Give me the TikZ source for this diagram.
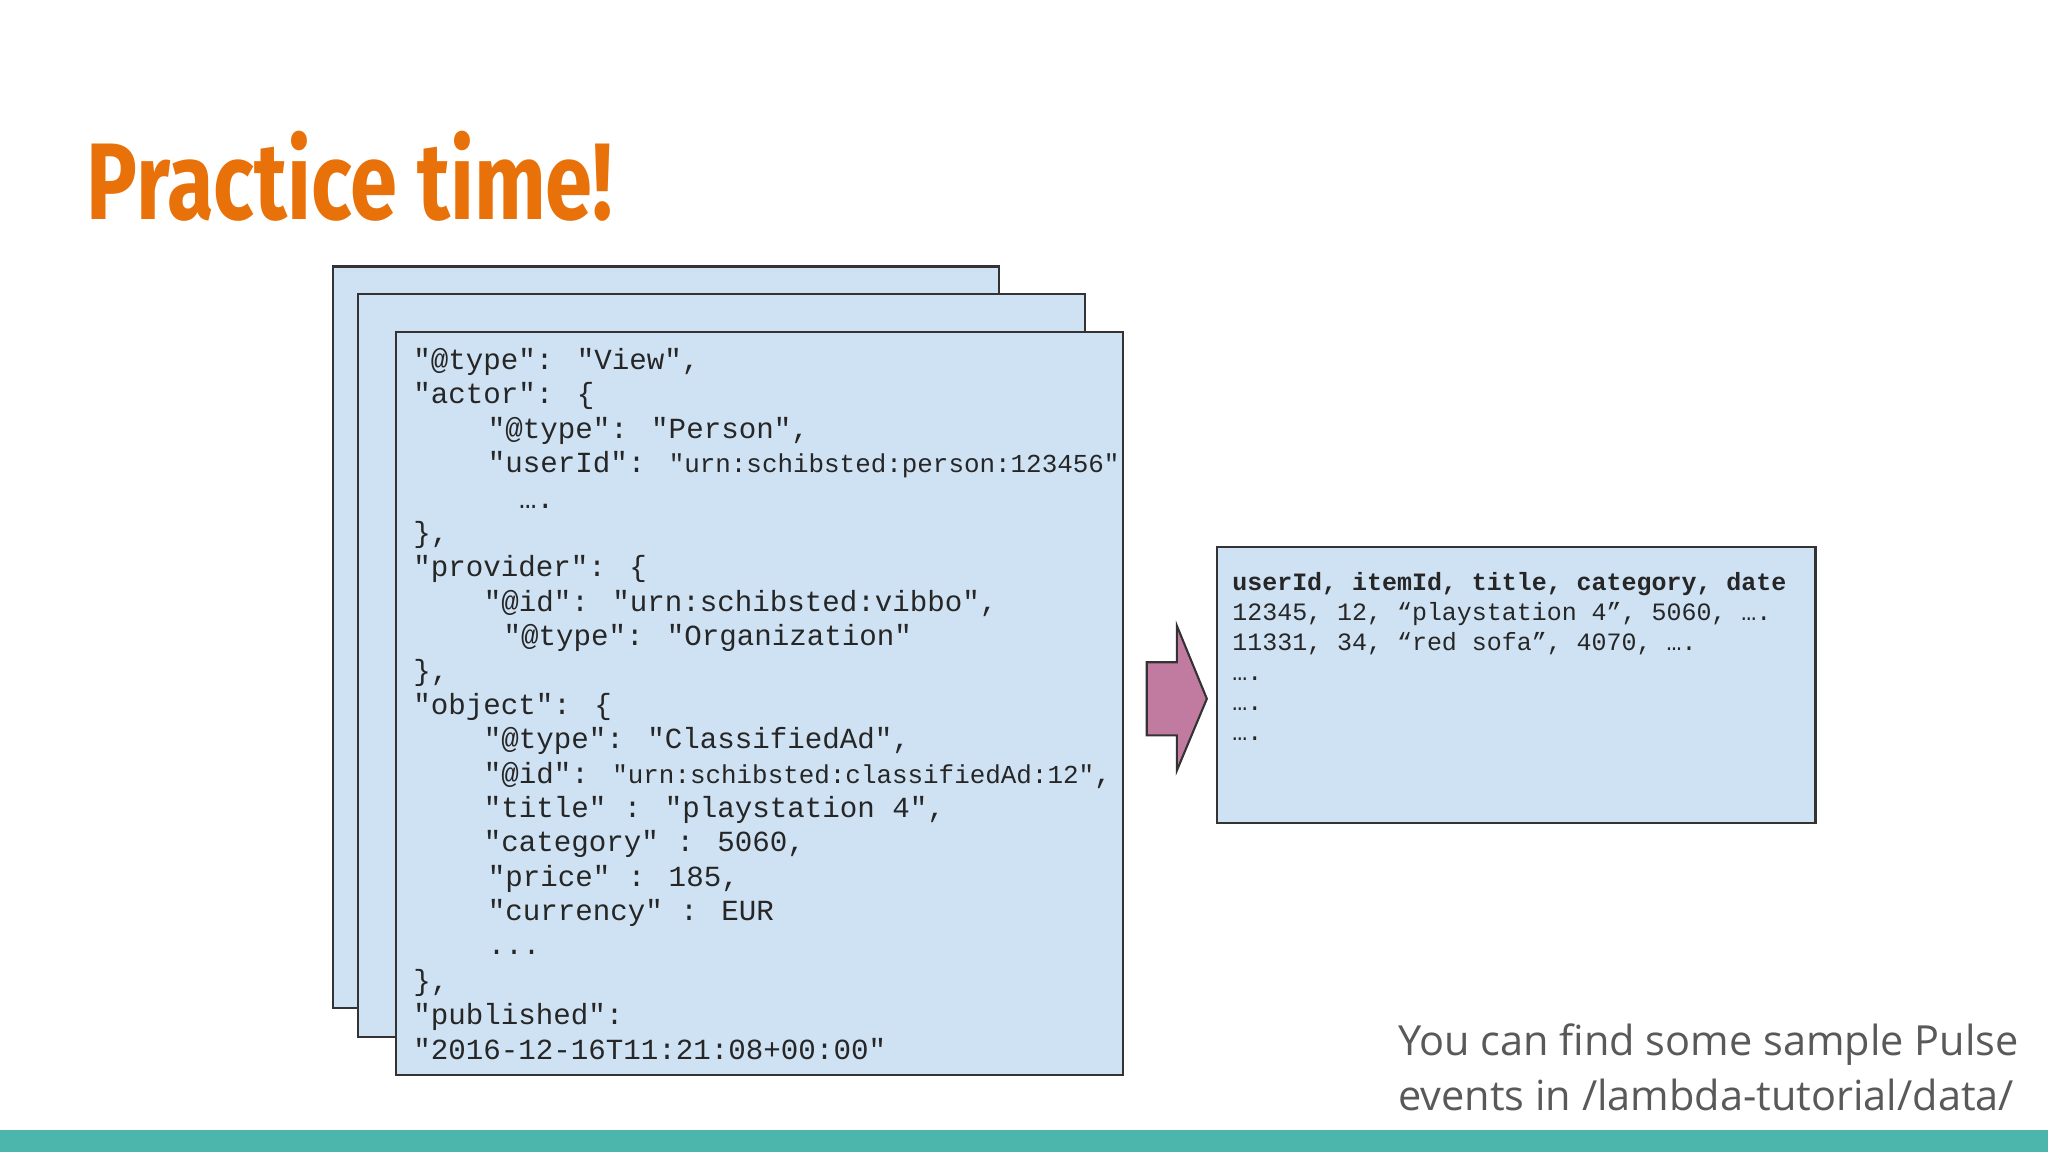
\documentclass[tikz,border=0pt]{standalone}
\usepackage{fontspec}
\setmainfont{Open Sans}
\newfontfamily\codef{Liberation Mono}
\newfontfamily\titlef[FakeStretch=0.78]{Fira Sans}
\definecolor{boxblue}{HTML}{CFE2F3}
\definecolor{orng}{HTML}{E8710A}
\definecolor{pinkarr}{HTML}{C27BA0}
\definecolor{teal}{HTML}{4DB6AC}
\definecolor{greytxt}{HTML}{595959}
\begin{document}
\begin{tikzpicture}[x=0.013061cm,y=-0.013061cm,
  card/.style={fill=boxblue,draw=black!80,line width=0.6pt},
  code/.style={anchor=base west,inner sep=0pt,font=\codef\fontsize{8.3}{9}\selectfont,text=black!85},
  rcode/.style={anchor=base west,inner sep=0pt,font=\codef\fontsize{7.1}{8}\selectfont,text=black!85}]
\newcommand{\sm}{\fontsize{7.37}{8}\selectfont}
\useasboundingbox (0,0) rectangle (1568,882);
\fill[teal] (0,865) rectangle (1568,882);
\node[anchor=base west,inner sep=0pt,text=orng,font=\titlef\bfseries\fontsize{31}{34}\selectfont] (title) at (66,168) {Practice time!};
\draw[card] (255,204) rectangle (765,772);
\draw[card] (274,225) rectangle (831,794);
\draw[card] (303,254) rectangle (860,823);
\node[code] (l1) at (316,283) {"@type": "View",};
\node[code] (l2) at (316,309) {"actor": \{};
\node[code] (l3) at (373,336) {"@type": "Person",};
\node[code] (l4) at (373,362) {"userId": {\sm "urn:schibsted:person:123456"}};
\node[code] (l5) at (397,389) {….};
\node[code] (l6) at (316,415) {\},};
\node[code] (l7) at (316,441) {"provider": \{};
\node[code] (l8) at (370,468) {"@id": "urn:schibsted:vibbo",};
\node[code] (l9) at (385,494) {"@type": "Organization"};
\node[code] (l10) at (316,521) {\},};
\node[code] (l11) at (316,547) {"object": \{};
\node[code] (l12) at (370,573) {"@type": "ClassifiedAd",};
\node[code] (l13) at (370,600) {"@id": {\sm "urn:schibsted:classifiedAd:12"},};
\node[code] (l14) at (370,626) {"title" : "playstation 4",};
\node[code] (l15) at (370,652) {"category" : 5060,};
\node[code] (l16) at (373,679) {"price" : 185,};
\node[code] (l17) at (373,705) {"currency" : EUR};
\node[code] (l18) at (373,731) {...};
\node[code] (l19) at (316,758) {\},};
\node[code] (l20) at (316,784) {"published":};
\node[code] (l21) at (316,811) {"2016-12-16T11:21:08+00:00"};
\draw[fill=pinkarr,draw=black!80,line width=0.6pt] (878,507) -- (901,507) -- (901,479) -- (924,535) -- (901,590) -- (901,563) -- (878,563) -- cycle;
\draw[card] (932,419) rectangle (1390,630);
\node[rcode,font=\codef\bfseries\fontsize{7.1}{8}\selectfont] (r1) at (943,452) {userId, itemId, title, category, date};
\node[rcode] (r2) at (943,475) {12345, 12, “playstation 4”, 5060, ….};
\node[rcode] (r3) at (943,498) {11331, 34, “red sofa”, 4070, ….};
\node[rcode] (r4) at (943,521) {….};
\node[rcode] (r5) at (943,544) {….};
\node[rcode] (r6) at (943,567) {….};
\node[anchor=base west,inner sep=0pt,text=greytxt,align=left,font=\fontsize{11.8}{15.6}\selectfont] (note) at (1070,808) {You can find some sample Pulse};
\node[anchor=base west,inner sep=0pt,text=greytxt,font=\fontsize{11.8}{15.6}\selectfont] (note2) at (1070,850) {events in /lambda-tutorial/data/};
\end{tikzpicture}
\end{document}
